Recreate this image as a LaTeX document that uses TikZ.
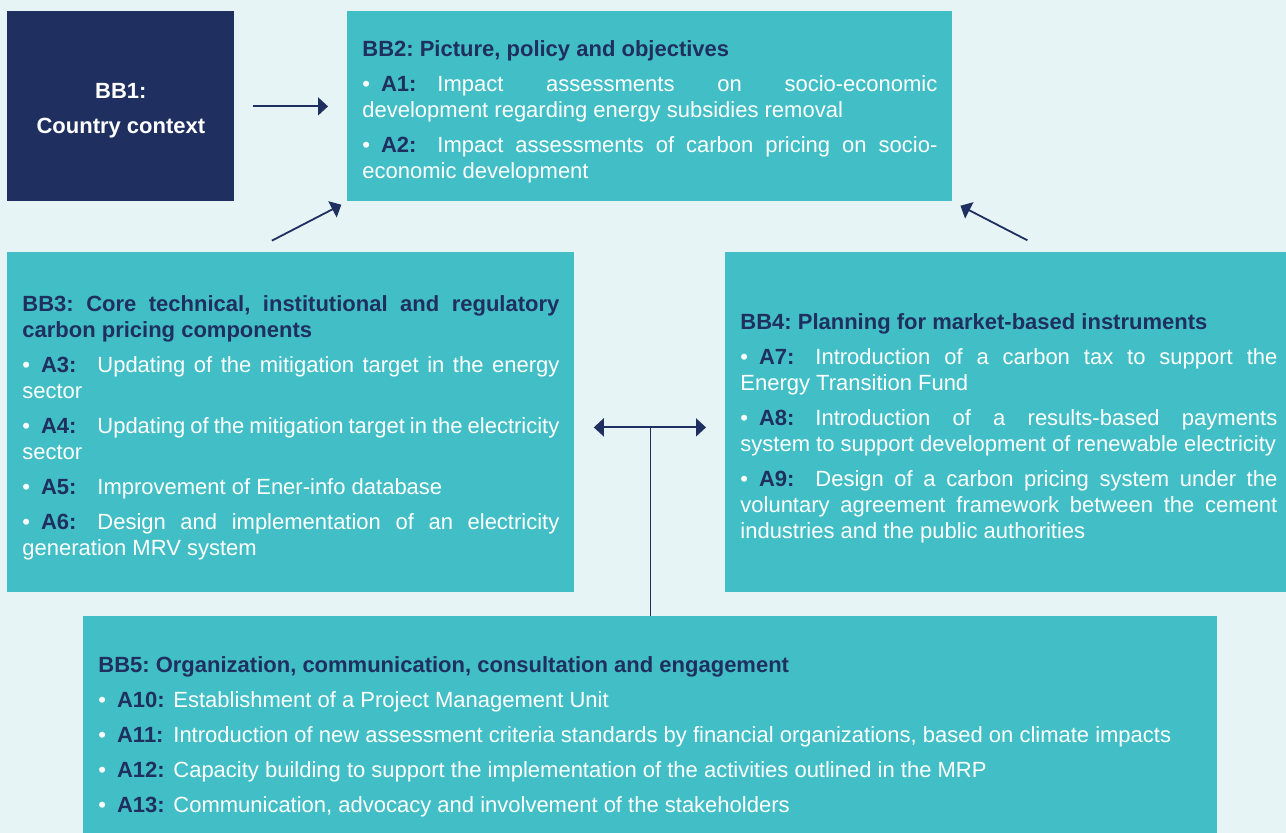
\documentclass[tikz,border=0pt]{standalone}
\usepackage{fontspec}
\setmainfont{Liberation Sans}
\usetikzlibrary{arrows.meta,calc}
\definecolor{bbnavy}{HTML}{1F2F60}
\definecolor{bbteal}{HTML}{42BFC6}
\definecolor{bbback}{HTML}{E6F4F6}
\hyphenpenalty=10000
\tolerance=3000
\frenchspacing
\newcommand{\bbhead}[1]{\noindent\rule{0pt}{13.7pt}\textbf{\color{bbnavy}#1}}
\newcommand{\act}[2]{\par\vspace{4.5pt}\noindent\makebox[37.5pt][l]{\textbullet\hspace{5.5pt}\textbf{\color{bbnavy}#1:}}#2}
\tikzset{
  block/.style={fill=bbteal, text=white, anchor=north west, align=justify,
    inner xsep=7.5pt, inner ysep=0pt},
  link/.style={draw=bbnavy, line width=0.9pt, -{Triangle[length=5pt,width=9pt]}},
}
\begin{document}
\begin{tikzpicture}[x=0.5pt,y=-0.5pt,font=\fontsize{11}{13}\selectfont]
\useasboundingbox[fill=bbback] (0,0) rectangle (1286,833);
\node[fill=bbnavy, text=white, anchor=north west, align=center, inner sep=0pt,
  minimum width=113.5pt, minimum height=95pt,
  font=\fontsize{11}{17.5}\selectfont\bfseries] (bb1) at (7,11) {\rule{0pt}{12pt}BB1:\\Country context};
\node[block, text width=287.5pt, minimum height=95pt] (bb2) at (347,11) {%
  \bbhead{BB2: Picture, policy and objectives}
  \act{A1}{Impact assessments on socio-economic development regarding energy subsidies removal}
  \act{A2}{Impact assessments of carbon pricing on socio-economic development}};
\node[block, text width=268.5pt, minimum height=170pt] (bb3) at (7,252) {%
  \bbhead{BB3: Core technical, institutional and regulatory carbon pricing components}
  \act{A3}{Updating of the mitigation target in the energy sector}
  \act{A4}{Updating of the mitigation target in the electricity sector}
  \act{A5}{Improvement of Ener-info database}
  \act{A6}{Design and implementation of an electricity generation MRV system}};
\node[block, text width=268.5pt, minimum height=170pt] (bb4) at (725,252) {%
  \bbhead{BB4: Planning for market-based instruments}
  \act{A7}{Introduction of a carbon tax to support the Energy Transition Fund}
  \act{A8}{Introduction of a results-based payments system to support development of renewable electricity}
  \act{A9}{Design of a carbon pricing system under the voluntary agreement framework between the cement industries and the public authorities}};
\node[block, text width=552pt, minimum height=115pt] (bb5) at (83,616) {%
  \bbhead{BB5: Organization, communication, consultation and engagement}
  \act{A10}{Establishment of a Project Management Unit}
  \act{A11}{Introduction of new assessment criteria standards by financial organizations, based on climate impacts}
  \act{A12}{Capacity building to support the implementation of the activities outlined in the MRP}
  \act{A13}{Communication, advocacy and involvement of the stakeholders}};
\draw[link, shorten <=9pt, shorten >=9.5pt] (bb1.east) -- (bb2.west);
\draw[link, shorten <=12.3pt, shorten >=3.2pt] ([xshift=121.5pt]bb3.north west) -- (bb2.south west);
\draw[link, shorten <=12.7pt, shorten >=4.3pt] ([xshift=162.5pt]bb4.north west) -- (bb2.south east);
\coordinate (hub) at ($([yshift=-2.5pt]bb3.east)!0.5!([yshift=-2.5pt]bb4.west)$);
\draw[link, {Triangle[length=5pt,width=9pt]}-{Triangle[length=5pt,width=9pt]},
  shorten <=9.5pt, shorten >=9.5pt] ([yshift=-2.5pt]bb3.east) -- ([yshift=-2.5pt]bb4.west);
\draw[draw=bbnavy, line width=0.9pt] (bb5.north) -- (bb5.north |- hub);
\end{tikzpicture}
\end{document}
